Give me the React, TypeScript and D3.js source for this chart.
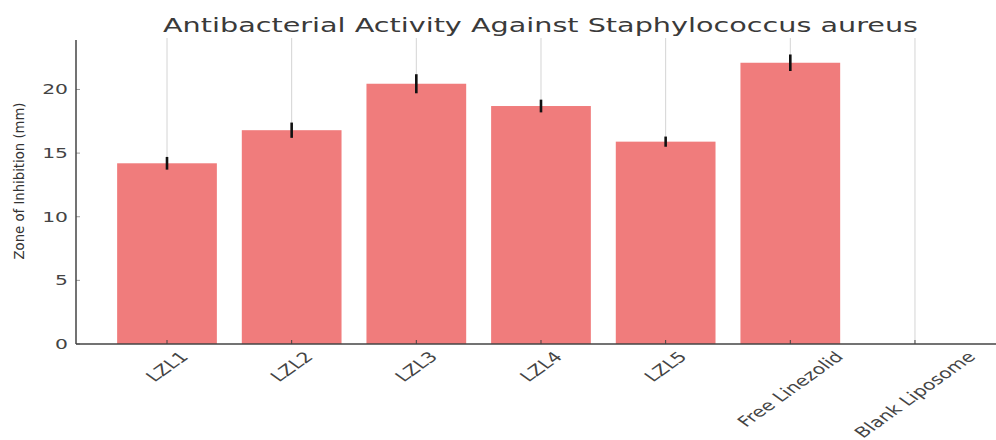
import React, { useEffect, useRef } from "react";
import * as d3 from "d3";

// Zone of inhibition (mm) per formulation, with standard deviations
const categories = ["LZL1", "LZL2", "LZL3", "LZL4", "LZL5", "Free Linezolid", "Blank Liposome"];
const zoneValues = [14.2, 16.8, 20.45, 18.7, 15.9, 22.1, 0];
const zoneErrors = [0.5, 0.6, 0.75, 0.5, 0.4, 0.65, 0];
const yTicks = [0, 5, 10, 15, 20];

const title = "Antibacterial Activity Against Staphylococcus aureus";
const yLabel = "Zone of Inhibition (mm)";

const W = 996;
const H = 440;
const FONT = "'DejaVu Sans', Verdana, sans-serif";
// horizontal stretch applied to every text element
const SX = 1.4;

export default function App() {
  const ref = useRef<SVGSVGElement | null>(null);

  useEffect(() => {
    const svg = d3.select(ref.current);
    svg.selectAll("*").remove();

    const left = 76;
    const top = 40;
    const bottom = 344;

    const x = d3.scaleLinear().domain([-0.73, 6.65]).range([left, W]);
    const yMax = d3.max(zoneValues.map((v, i) => v + zoneErrors[i])) as number;
    const y = d3.scaleLinear().domain([0, yMax * 1.05]).range([bottom, top]);
    const barW = x(0.8) - x(0);

    // vertical grid lines at each category
    svg
      .append("g")
      .selectAll("line")
      .data(categories)
      .join("line")
      .attr("x1", (_, i) => x(i))
      .attr("x2", (_, i) => x(i))
      .attr("y1", 38)
      .attr("y2", bottom)
      .attr("stroke", "#d4d4d4")
      .attr("stroke-width", 1);

    // bars
    svg
      .append("g")
      .selectAll("rect")
      .data(zoneValues)
      .join("rect")
      .attr("x", (_, i) => x(i) - barW / 2)
      .attr("width", barW)
      .attr("y", (d) => y(d))
      .attr("height", (d) => bottom - y(d))
      .attr("fill", "#f07c7c");

    // error bars
    svg
      .append("g")
      .selectAll("line")
      .data(zoneValues)
      .join("line")
      .attr("x1", (_, i) => x(i))
      .attr("x2", (_, i) => x(i))
      .attr("y1", (d, i) => y(d + zoneErrors[i]))
      .attr("y2", (d, i) => y(d - zoneErrors[i]))
      .attr("stroke", "#111")
      .attr("stroke-width", (_, i) => (zoneErrors[i] > 0 ? 2.6 : 0));

    // x ticks (inward)
    svg
      .append("g")
      .selectAll("line")
      .data(categories)
      .join("line")
      .attr("x1", (_, i) => x(i))
      .attr("x2", (_, i) => x(i))
      .attr("y1", bottom)
      .attr("y2", bottom - 4)
      .attr("stroke", "#444")
      .attr("stroke-width", 1);

    // y ticks (inward)
    svg
      .append("g")
      .selectAll("line")
      .data(yTicks)
      .join("line")
      .attr("x1", left)
      .attr("x2", left + 4)
      .attr("y1", (d) => y(d))
      .attr("y2", (d) => y(d))
      .attr("stroke", "#999")
      .attr("stroke-width", 1);

    // axis lines
    svg
      .append("line")
      .attr("x1", left)
      .attr("x2", left)
      .attr("y1", top)
      .attr("y2", bottom)
      .attr("stroke", "#444")
      .attr("stroke-width", 1.5);
    svg
      .append("line")
      .attr("x1", left)
      .attr("x2", W)
      .attr("y1", bottom)
      .attr("y2", bottom)
      .attr("stroke", "#444")
      .attr("stroke-width", 1.5);

    // y tick labels
    svg
      .append("g")
      .selectAll("text")
      .data(yTicks)
      .join("text")
      .attr("transform", (d) => `translate(${left - 8},${y(d)}) scale(${SX},1)`)
      .attr("text-anchor", "end")
      .attr("dominant-baseline", "central")
      .attr("font-family", FONT)
      .attr("font-size", 14.5)
      .attr("fill", "#444")
      .text((d) => String(d));

    // x tick labels, rotated 45° and centred under their tick
    const fs = 14.5;
    const labels = svg
      .append("g")
      .selectAll("text")
      .data(categories)
      .join("text")
      .attr("text-anchor", "middle")
      .attr("dominant-baseline", "central")
      .attr("font-family", FONT)
      .attr("font-size", fs)
      .attr("fill", "#444")
      .text((d) => d);
    labels.attr("transform", function (_, i) {
      const L = (this as SVGTextElement).getComputedTextLength();
      const half = (L + fs) / (2 * Math.SQRT2);
      return `translate(${x(i)},${bottom + 5 + half}) scale(${SX},1) rotate(-45)`;
    });

    // y-axis label
    svg
      .append("text")
      .attr("transform", `translate(24,181) scale(${SX},1) rotate(-90)`)
      .attr("text-anchor", "middle")
      .attr("font-family", FONT)
      .attr("font-size", 10.5)
      .attr("fill", "#333")
      .attr("textLength", 157)
      .attr("lengthAdjust", "spacingAndGlyphs")
      .text(yLabel);

    // title
    svg
      .append("text")
      .attr("transform", `translate(540.5,32) scale(${SX},1)`)
      .attr("text-anchor", "middle")
      .attr("font-family", FONT)
      .attr("font-size", 19.5)
      .attr("fill", "#3a3a3a")
      .attr("textLength", 755 / SX)
      .attr("lengthAdjust", "spacingAndGlyphs")
      .text(title);
  }, []);

  return (
    <svg
      ref={ref}
      width={W}
      height={H}
      viewBox={`0 0 ${W} ${H}`}
      style={{ position: "absolute", left: 0, top: 0, background: "#fff" }}
    />
  );
}
